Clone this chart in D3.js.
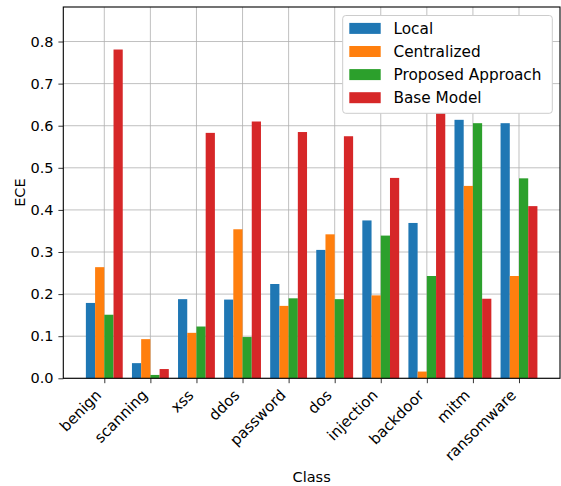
<!DOCTYPE html>
<html>
<head>
<meta charset="utf-8">
<script src="https://cdn.jsdelivr.net/npm/d3@7"></script>
<style>
  html, body { margin: 0; padding: 0; background: #fff; }
  svg { display: block; font-family: "DejaVu Sans", sans-serif; }
</style>
</head>
<body>
<svg id="chart" width="561" height="486"></svg>
<script>
// ECE per attack class for each training setup
const classes = ["benign", "scanning", "xss", "ddos", "password", "dos", "injection", "backdoor", "mitm", "ransomware"];
const seriesNames = ["Local", "Centralized", "Proposed Approach", "Base Model"];
const local       = [0.179, 0.036, 0.188, 0.187, 0.224, 0.305, 0.375, 0.369, 0.614, 0.606];
const centralized = [0.264, 0.093, 0.108, 0.354, 0.172, 0.342, 0.197, 0.016, 0.457, 0.243];
const proposed    = [0.151, 0.008, 0.123, 0.098, 0.190, 0.188, 0.339, 0.243, 0.606, 0.475];
const baseModel   = [0.781, 0.022, 0.583, 0.610, 0.585, 0.575, 0.476, 0.840, 0.189, 0.409];
const yTicks = [0.0, 0.1, 0.2, 0.3, 0.4, 0.5, 0.6, 0.7, 0.8];
const colors = ["#1f77b4", "#ff7f0e", "#2ca02c", "#d62728"];

const seriesValues = [local, centralized, proposed, baseModel];
const barWidth = 0.2;

const svg = d3.select("#chart");
const plot = { left: 63.3, right: 560, top: 7, bottom: 378.3 };

// x: category index with the bar-group extent padded by 5% on each side
const lo = -2 * barWidth, hi = classes.length - 1 + 2 * barWidth;
const pad = 0.05 * (hi - lo);
const x = d3.scaleLinear().domain([lo - pad, hi + pad]).range([plot.left, plot.right]);
const yMax = d3.max(seriesValues.flat()) * 1.05;
const y = d3.scaleLinear().domain([0, yMax]).range([plot.bottom, plot.top]);

// grid
const grid = svg.append("g").attr("stroke", "#b0b0b0").attr("stroke-width", 0.8);
grid.selectAll("line.h").data(yTicks).join("line")
  .attr("x1", plot.left).attr("x2", plot.right)
  .attr("y1", d => y(d)).attr("y2", d => y(d));
grid.selectAll("line.v").data(classes).join("line")
  .attr("y1", plot.top).attr("y2", plot.bottom)
  .attr("x1", (d, i) => x(i)).attr("x2", (d, i) => x(i));

// bars
seriesValues.forEach((vals, s) => {
  svg.append("g").attr("fill", colors[s])
    .selectAll("rect").data(vals).join("rect")
    .attr("x", (d, i) => x(i + (s - 1.5) * barWidth - barWidth / 2))
    .attr("width", (d, i) => x(i + (s - 1.5) * barWidth + barWidth / 2) - x(i + (s - 1.5) * barWidth - barWidth / 2))
    .attr("y", d => y(d))
    .attr("height", d => y(0) - y(d));
});

// axes
const yAxis = d3.axisLeft(y).tickValues(yTicks).tickFormat(d3.format(".1f")).tickSize(4.9).tickPadding(4.9);
const gy = svg.append("g").attr("transform", `translate(${plot.left},0)`).call(yAxis);
gy.select(".domain").remove();
gy.selectAll("text").attr("font-size", 14.5).attr("font-family", "DejaVu Sans").attr("fill", "#000");
gy.selectAll("line").attr("stroke", "#000").attr("stroke-width", 0.8);

const xAxis = d3.axisBottom(x).tickValues(d3.range(classes.length)).tickFormat(i => classes[i]).tickSize(4.9);
const gx = svg.append("g").attr("transform", `translate(0,${plot.bottom})`).call(xAxis);
gx.select(".domain").remove();
gx.selectAll("line").attr("stroke", "#000").attr("stroke-width", 0.8);
gx.selectAll("text")
  .attr("font-size", 15).attr("font-family", "DejaVu Sans").attr("fill", "#000")
  .attr("text-anchor", "end")
  .attr("dy", null)
  .attr("y", 0)
  .attr("transform", "translate(-2.5,17.8) rotate(-45)");

// frame
svg.append("rect")
  .attr("x", plot.left).attr("y", plot.top)
  .attr("width", plot.right - plot.left).attr("height", plot.bottom - plot.top)
  .attr("fill", "none").attr("stroke", "#000").attr("stroke-width", 1.1);

// axis titles
svg.append("text")
  .attr("x", (plot.left + plot.right) / 2).attr("y", 481.5)
  .attr("text-anchor", "middle").attr("font-size", 14.5).text("Class");
svg.append("text")
  .attr("transform", `translate(25.2,${(plot.top + plot.bottom) / 2}) rotate(-90)`)
  .attr("text-anchor", "middle").attr("font-size", 14.5).text("ECE");

// legend
const lg = svg.append("g");
lg.append("rect")
  .attr("x", 342.7).attr("y", 15.5).attr("width", 209.6).attr("height", 97.8)
  .attr("rx", 3).attr("fill", "#fff").attr("stroke", "#cccccc").attr("stroke-width", 1);
seriesNames.forEach((name, s) => {
  const cy = 28.4 + s * 23.1;
  lg.append("rect").attr("x", 349.3).attr("y", cy - 5.5).attr("width", 31.4).attr("height", 11)
    .attr("fill", colors[s]);
  lg.append("text").attr("x", 393.5).attr("y", cy).attr("dy", "0.36em")
    .attr("font-size", 15.3).attr("fill", "#000").text(name);
});
</script>
</body>
</html>
